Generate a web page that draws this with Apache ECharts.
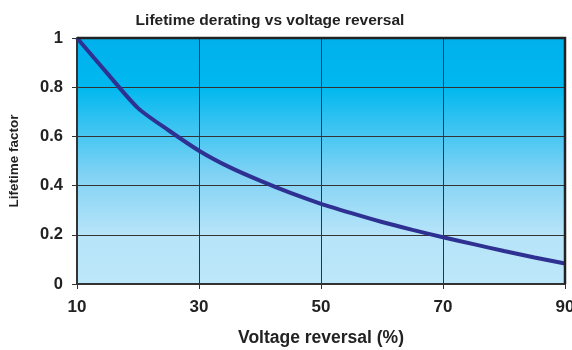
<!DOCTYPE html>
<html><head><meta charset="utf-8">
<script src="https://cdn.jsdelivr.net/npm/echarts@6/dist/echarts.min.js"></script>
<style>html,body{margin:0;padding:0;background:#fff}#c{width:572px;height:350px}</style>
</head><body><div id="c"></div>
<script>
const voltageReversal = [10, 15, 20, 25, 30, 35, 40, 45, 50, 55, 60, 65, 70, 75, 80, 85, 90];
const lifetimeFactor = [1.0, 0.855, 0.715, 0.625, 0.542, 0.475, 0.42, 0.37, 0.326, 0.288, 0.252, 0.22, 0.19, 0.162, 0.134, 0.108, 0.083];
const xTicks = [10, 30, 50, 70, 90];
const yTicks = [0, 0.2, 0.4, 0.6, 0.8, 1];

const chart = echarts.init(document.getElementById('c'), null, {renderer: 'canvas'});
const font = 'Liberation Sans, Arial, sans-serif';
chart.setOption({
  animation: false,
  title: {
    text: 'Lifetime derating vs voltage reversal',
    left: 265, top: 8, textAlign: 'center',
    textStyle: {fontFamily: font, fontWeight: 'bold', fontSize: 15.5, color: '#222'}
  },
  grid: {
    left: 77, right: 7, top: 38, bottom: 66, show: true,
    outerBoundsMode: 'none', containLabel: false,
    borderWidth: 0,
    backgroundColor: {
      type: 'linear', x: 0, y: 0, x2: 0, y2: 1,
      colorStops: [
        {offset: 0, color: '#00b0ec'},
        {offset: 0.2, color: '#00b8ef'},
        {offset: 0.55, color: '#7fd2f4'},
        {offset: 0.8, color: '#b7e4f9'},
        {offset: 1, color: '#bde7fa'}
      ]
    }
  },
  xAxis: {
    type: 'value', min: 10, max: 90, interval: 20,
    name: 'Voltage reversal (%)', nameLocation: 'middle', nameGap: 45,
    nameTextStyle: {fontFamily: font, fontWeight: 'bold', fontSize: 17.5, color: '#222'},
    axisLine: {show: true, lineStyle: {color: '#333', width: 2}},
    axisTick: {show: true, length: 5, lineStyle: {color: '#333'}},
    axisLabel: {fontFamily: font, fontWeight: 'bold', fontSize: 17, color: '#222', margin: 15,
      formatter: v => xTicks.includes(v) ? String(v) : ''},
    splitLine: {show: true, lineStyle: {color: '#333', width: 1}}
  },
  yAxis: {
    type: 'value', min: 0, max: 1, interval: 0.2,
    name: 'Lifetime factor', nameLocation: 'middle', nameGap: 56,
    nameTextStyle: {fontFamily: font, fontWeight: 'bold', fontSize: 13.5, color: '#222'},
    axisLine: {show: true, lineStyle: {color: '#333', width: 2}},
    axisTick: {show: true, length: 5, lineStyle: {color: '#333'}},
    axisLabel: {fontFamily: font, fontWeight: 'bold', fontSize: 16.5, color: '#222', margin: 14,
      formatter: v => { const t = yTicks.find(y => Math.abs(y - v) < 1e-9); return t === undefined ? '' : String(t); }},
    splitLine: {show: true, lineStyle: {color: '#333', width: 1}}
  },
  series: [{
    type: 'line',
    data: voltageReversal.map((x, i) => [x, lifetimeFactor[i]]),
    smooth: 0.25,
    showSymbol: false,
    lineStyle: {color: '#2e3192', width: 4},
    z: 3
  }],
  graphic: [{
    type: 'polyline', z: 10,
    shape: {points: [[77, 38], [565, 38], [565, 284]]},
    style: {stroke: '#222', lineWidth: 2.5, fill: null}
  }]
});
</script></body></html>
